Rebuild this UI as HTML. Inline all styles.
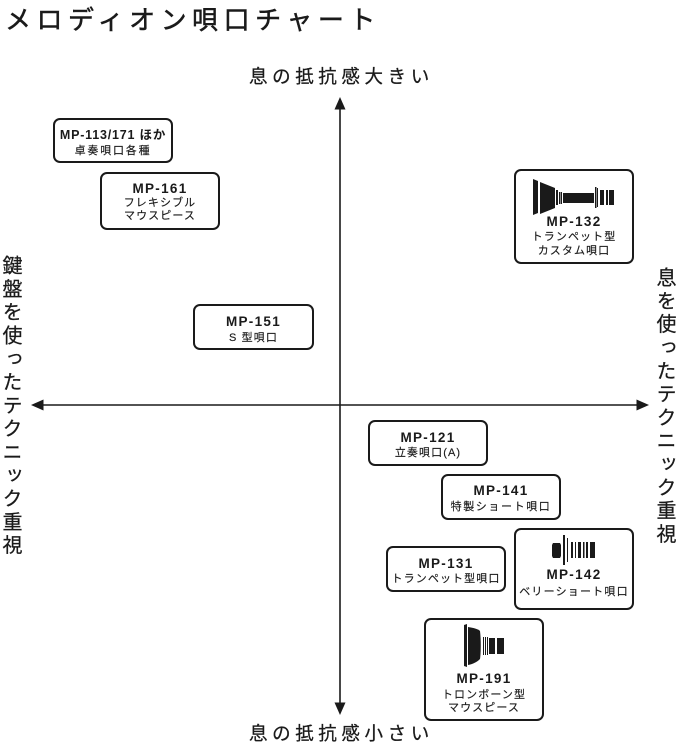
<!DOCTYPE html>
<html lang="ja">
<head>
<meta charset="utf-8">
<style>
html,body{margin:0;padding:0;background:#fff}
#p{position:relative;width:679px;height:746px;overflow:hidden;background:#fff;color:#1a1a1a;font-family:"Liberation Sans","Noto Sans CJK JP",sans-serif}
.t{position:absolute;white-space:nowrap}
.l{-webkit-text-stroke:.25px #1a1a1a}
.v{position:absolute;writing-mode:vertical-rl;white-space:nowrap;font-size:20px;line-height:20px;letter-spacing:3.3px;-webkit-text-stroke:.25px #1a1a1a}
.b{position:absolute;box-sizing:border-box;border:2px solid #1a1a1a;border-radius:7px;background:#fff;text-align:center}
.m,.s{position:absolute;left:-2px;right:-2px;white-space:nowrap;text-align:center}
.m{font-size:13.5px;font-weight:bold;letter-spacing:1.3px;line-height:14px}
.s{font-size:11px;letter-spacing:1.1px;line-height:13px;-webkit-text-stroke:.15px #1a1a1a}
svg{position:absolute;left:0;top:0}
</style>
</head>
<body>
<div id="p">
<div class="t" style="left:5px;top:1px;font-size:26px;line-height:38px;letter-spacing:5.500px;-webkit-text-stroke:.5px #1a1a1a">メロディオン唄口チャート</div>
<div class="t l" style="left:249px;top:64px;font-size:18.500px;line-height:26px;letter-spacing:4.600px">息の抵抗感大きい</div>
<div class="t l" style="left:249px;top:721px;font-size:18.500px;line-height:26px;letter-spacing:4.600px">息の抵抗感小さい</div>
<div class="v" style="left:0;top:255px">鍵盤を使ったテクニック重視</div>
<div class="v" style="left:654px;top:267px">息を使ったテクニック重視</div>

<svg width="679" height="746" viewBox="0 0 679 746">
<g stroke="#1a1a1a" stroke-width="1.6"><line x1="340" y1="106" x2="340" y2="706"/><line x1="40" y1="405" x2="640" y2="405"/></g>
<g fill="#1a1a1a">
<path d="M340 97l5.500 12.500h-11z"/><path d="M340 715l5.500-12.500h-11z"/>
<path d="M31 405l12.500-5.500v11z"/><path d="M649 405l-12.500-5.500v11z"/>
</g>
</svg>

<div class="b" style="left:53px;top:118px;width:120px;height:45px"><div class="m" style="top:8px;font-size:12.500px;letter-spacing:.8px">MP-113/171 ほか</div><div class="s" style="top:25px;letter-spacing:1.800px">卓奏唄口各種</div></div>
<div class="b" style="left:100px;top:172px;width:120px;height:58px"><div class="m" style="top:8px">MP-161</div><div class="s" style="top:23px">フレキシブル</div><div class="s" style="top:36px">マウスピース</div></div>
<div class="b" style="left:514px;top:169px;width:120px;height:95px"><div class="m" style="top:44px">MP-132</div><div class="s" style="top:60px">トランペット型</div><div class="s" style="top:74px">カスタム唄口</div></div>
<div class="b" style="left:193px;top:304px;width:121px;height:46px"><div class="m" style="top:9px">MP-151</div><div class="s" style="top:26px">S 型唄口</div></div>
<div class="b" style="left:368px;top:420px;width:120px;height:46px"><div class="m" style="top:9px">MP-121</div><div class="s" style="top:25px">立奏唄口(A)</div></div>
<div class="b" style="left:441px;top:474px;width:120px;height:46px"><div class="m" style="top:8px">MP-141</div><div class="s" style="top:25px;letter-spacing:1.600px">特製ショート唄口</div></div>
<div class="b" style="left:386px;top:546px;width:120px;height:46px"><div class="m" style="top:9px">MP-131</div><div class="s" style="top:25px">トランペット型唄口</div></div>
<div class="b" style="left:514px;top:528px;width:120px;height:82px"><div class="m" style="top:38px">MP-142</div><div class="s" style="top:56px;letter-spacing:1.200px">ベリーショート唄口</div></div>
<div class="b" style="left:424px;top:618px;width:120px;height:103px"><div class="m" style="top:52px">MP-191</div><div class="s" style="top:69px">トロンボーン型</div><div class="s" style="top:82px">マウスピース</div></div>

<svg width="679" height="746" viewBox="0 0 679 746">
<g fill="#1a1a1a">
<!-- MP-132 -->
<path d="M533 179l5 2v32l-5 2z"/>
<path d="M540 182l15 6v20l-15 6z"/>
<path d="M556 190h2v15h-2zM559 192h1.500v12h-1.500zM561 192h1v12h-1z"/>
<path d="M563 193h31v10h-31z"/>
<path d="M595 187h1.500v21h-1.500zM597 188h1v19h-1z"/>
<path d="M600 190h4v15h-4zM606 190h2v15h-2zM609 190h5v15h-5z"/>
<!-- MP-142 -->
<path d="M553 543h7l1 2v11l-1 2h-7l-1-2v-11z"/>
<path d="M563 535h2v30h-2zM567 538h1v24h-1z"/>
<path d="M571 542h2v16h-2zM575 542h1v16h-1zM578 542h3v16h-3zM583 542h1.500v16h-1.500zM586 542h2v16h-2zM590 542h5v16h-5z"/>
<!-- MP-191 -->
<path d="M464 625l3-1v43l-3-1z"/>
<path d="M468 627c6 1 10 2 12 4 1 8 1 21 0 28-3 3-7 5-12 6z"/>
<path d="M483 637h1v18h-1zM485 637h1v18h-1zM487 637h1v18h-1z"/>
<path d="M489 638h6v16h-6zM497 638h7v16h-7z"/>
</g>
</svg>
</div>
</body>
</html>
